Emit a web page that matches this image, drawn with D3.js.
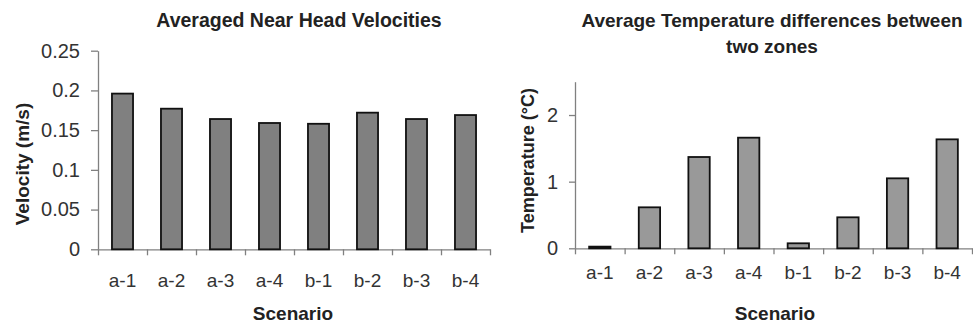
<!DOCTYPE html>
<html>
<head>
<meta charset="utf-8">
<script src="https://cdn.jsdelivr.net/npm/d3@7"></script>
<style>
  body { margin: 0; background: #fff; }
  svg { display: block; font-family: Arial, "Liberation Sans", sans-serif; }
  .tick text { fill: #333; }
</style>
</head>
<body>
<svg id="chart" width="973" height="325"></svg>
<script>
// data
var scenarios = ["a-1", "a-2", "a-3", "a-4", "b-1", "b-2", "b-3", "b-4"];
var velocity = [0.196, 0.177, 0.164, 0.159, 0.158, 0.172, 0.164, 0.169];
var tempDiff = [0.025, 0.615, 1.37, 1.66, 0.075, 0.465, 1.05, 1.635];
var velTicks = [0, 0.05, 0.1, 0.15, 0.2, 0.25];
var velTickLabels = ["0", "0.05", "0.1", "0.15", "0.2", "0.25"];
var tempTicks = [0, 1, 2];

var svg = d3.select("#chart");

function barChart(opt){
	var x = d3.scaleBand().domain(scenarios).range([opt.x0, opt.x1]);
	var xb = d3.scaleLinear().domain([0, scenarios.length]).range([opt.x0, opt.x1]);
	var y = d3.scaleLinear().domain(opt.domain).range([opt.y0, opt.y1]);
	var g = svg.append("g");

	// y axis
	var ya = g.append("g")
		.attr("transform", "translate(" + opt.x0 + ",0)")
		.call(d3.axisLeft(y).tickValues(opt.ticks).tickFormat(function(d, i){ return opt.tickLabels[i]; })
			.tickSize(opt.ytick).tickSizeOuter(0).tickPadding(11));
	ya.selectAll("text").style("font-size", "20px");

	// x axis: boundary ticks
	g.append("g")
		.attr("transform", "translate(0," + opt.y0 + ")")
		.call(d3.axisBottom(xb).tickValues(d3.range(scenarios.length + 1)).tickFormat("").tickSize(6).tickSizeOuter(0));
	// x axis labels
	var xa = g.append("g")
		.attr("transform", "translate(0," + opt.y0 + ")")
		.call(d3.axisBottom(x).tickSize(0).tickPadding(opt.xpad));
	xa.select(".domain").remove();
	xa.selectAll("text").style("font-size", "19px");

	g.selectAll(".domain, .tick line").attr("stroke", "#808080").attr("stroke-width", 1.3);

	// bars
	var bw = x.bandwidth() * 0.43;
	g.selectAll("rect")
		.data(opt.values)
		.enter()
		.append("rect")
		.attr("x", function(d, i){ return x(scenarios[i]) + (x.bandwidth() - bw) / 2; })
		.attr("y", function(d){ return y(d); })
		.attr("width", bw)
		.attr("height", function(d){ return opt.y0 - y(d); })
		.style("fill", opt.fill)
		.attr("stroke", "#111")
		.attr("stroke-width", 1.8);

	// titles
	var t = g.append("text")
		.attr("x", opt.titleX)
		.attr("y", opt.titleY)
		.attr("text-anchor", "middle")
		.style("font-size", opt.titleSize)
		.style("font-weight", "bold")
		.attr("fill", "#222");
	opt.title.forEach(function(line, i){
		t.append("tspan").attr("x", opt.titleX).attr("dy", i == 0 ? 0 : 25.5).text(line);
	});

	g.append("text")
		.attr("x", opt.xlabX)
		.attr("y", 320)
		.attr("text-anchor", "middle")
		.style("font-size", "19px")
		.style("font-weight", "bold")
		.attr("fill", "#222")
		.text("Scenario");

	g.append("text")
		.attr("transform", "translate(" + opt.ylabX + "," + opt.ylabY + ") rotate(-90)")
		.attr("text-anchor", "middle")
		.style("font-size", opt.ylabSize)
		.style("font-weight", "bold")
		.attr("fill", "#222")
		.text(opt.ylabel);
}

barChart({
	x0: 98, x1: 490, y0: 249.3, y1: 50.7, domain: [0, 0.25],
	ticks: velTicks, tickLabels: velTickLabels, ytick: 7, xpad: 24,
	values: velocity, fill: "#808080",
	title: ["Averaged Near Head Velocities"], titleX: 299, titleY: 27, titleSize: "19.5px",
	xlabX: 293, ylabX: 28.5, ylabY: 164, ylabel: "Velocity (m/s)", ylabSize: "19px"
});

barChart({
	x0: 575, x1: 972, y0: 248.3, y1: 81.7, domain: [0, 2.5],
	ticks: tempTicks, tickLabels: ["0", "1", "2"], ytick: 6, xpad: 17,
	values: tempDiff, fill: "#999999",
	title: ["Average Temperature differences between", "two zones"], titleX: 772, titleY: 27, titleSize: "19px",
	xlabX: 775, ylabX: 534, ylabY: 160.5, ylabel: "Temperature (°C)", ylabSize: "18px"
});
</script>
</body>
</html>
